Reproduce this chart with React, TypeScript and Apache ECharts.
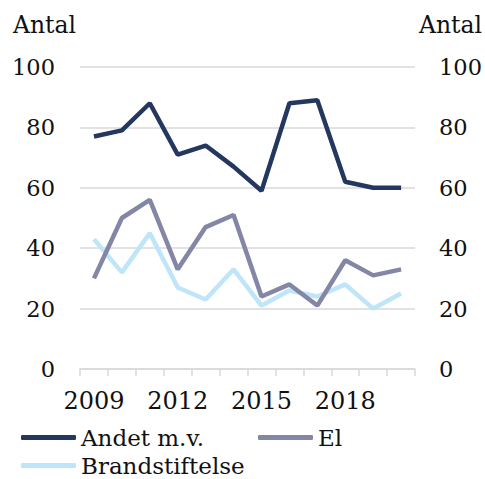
import React, { useEffect, useRef } from "react";
import * as echarts from "echarts";

const years = ["2009", "2010", "2011", "2012", "2013", "2014", "2015", "2016", "2017", "2018", "2019", "2020"];
const andet = [77, 79, 88, 71, 74, 67, 59, 88, 89, 62, 60, 60];
const el = [30, 50, 56, 33, 47, 51, 24, 28, 21, 36, 31, 33];
const brand = [43, 32, 45, 27, 23, 33, 21, 26, 24, 28, 20, 25];
const seriesNames = ["Andet m.v.", "El", "Brandstiftelse"];
const axisTitle = "Antal";

const FONT = "DejaVu Serif";
const C_ANDET = "#24375f";
const C_EL = "#8387a5";
const C_BRAND = "#bee5f8";
const GRID = "#d9d9d9";

export default function App() {
  const ref = useRef<HTMLDivElement>(null);
  useEffect(() => {
    if (!ref.current) return;
    const chart = echarts.init(ref.current, undefined, { renderer: "svg" });
    const fs = 23.5;
    const yAxisBase = (pos: "left" | "right") => ({
      type: "value" as const,
      position: pos,
      min: 0,
      max: 100,
      interval: 20,
      axisLine: { show: false },
      axisTick: { show: false },
      splitLine: { show: pos === "left", lineStyle: { color: GRID, width: 1.5 } },
      axisLabel: {
        color: "#111",
        fontFamily: FONT,
        fontSize: 22.5,
        margin: pos === "left" ? 25 : 24,
      },
    });
    const legendBase = (name: string, left: number, top: number) => ({
      data: [name],
      left,
      top,
      padding: 0,
      itemWidth: 55,
      itemHeight: 5,
      itemGap: 0,
      icon: "roundRect",
      textStyle: { color: "#111", fontFamily: FONT, fontSize: 23 },
    });
    chart.setOption({
      animation: false,
      backgroundColor: "#fff",
      textStyle: { fontFamily: FONT },
      grid: { left: 80, right: 69, top: 67, bottom: 110, containLabel: false },
      xAxis: {
        type: "category",
        data: years,
        boundaryGap: true,
        axisLine: { lineStyle: { color: GRID, width: 1.5 } },
        axisTick: { show: true, interval: 0, length: 7, lineStyle: { color: GRID, width: 1.5 } },
        axisLabel: {
          interval: 2,
          color: "#111",
          fontFamily: FONT,
          fontSize: 24,
          margin: 20,
        },
        splitLine: { show: false },
      },
      yAxis: [yAxisBase("left"), yAxisBase("right")],
      legend: [
        legendBase(seriesNames[0], 21, 426),
        legendBase(seriesNames[1], 258, 426),
        legendBase(seriesNames[2], 21, 454),
      ],
      graphic: [
        {
          type: "text",
          left: 13,
          top: 13,
          style: { text: axisTitle, fill: "#111", fontFamily: FONT, fontSize: fs },
        },
        {
          type: "text",
          right: 3,
          top: 13,
          style: { text: axisTitle, fill: "#111", fontFamily: FONT, fontSize: fs },
        },
      ],
      series: [
        {
          name: seriesNames[0],
          type: "line",
          data: andet,
          yAxisIndex: 0,
          symbol: "none",
          lineStyle: { color: C_ANDET, width: 4.5 },
          itemStyle: { color: C_ANDET },
          z: 3,
        },
        {
          name: seriesNames[1],
          type: "line",
          data: el,
          yAxisIndex: 0,
          symbol: "none",
          lineStyle: { color: C_EL, width: 4.5 },
          itemStyle: { color: C_EL },
          z: 2,
        },
        {
          name: seriesNames[2],
          type: "line",
          data: brand,
          yAxisIndex: 0,
          symbol: "none",
          lineStyle: { color: C_BRAND, width: 4.5 },
          itemStyle: { color: C_BRAND },
          z: 1,
        },
      ],
    });
    return () => chart.dispose();
  }, []);
  return <div ref={ref} style={{ width: 485, height: 479, position: "absolute", left: 0, top: 0 }} />;
}
